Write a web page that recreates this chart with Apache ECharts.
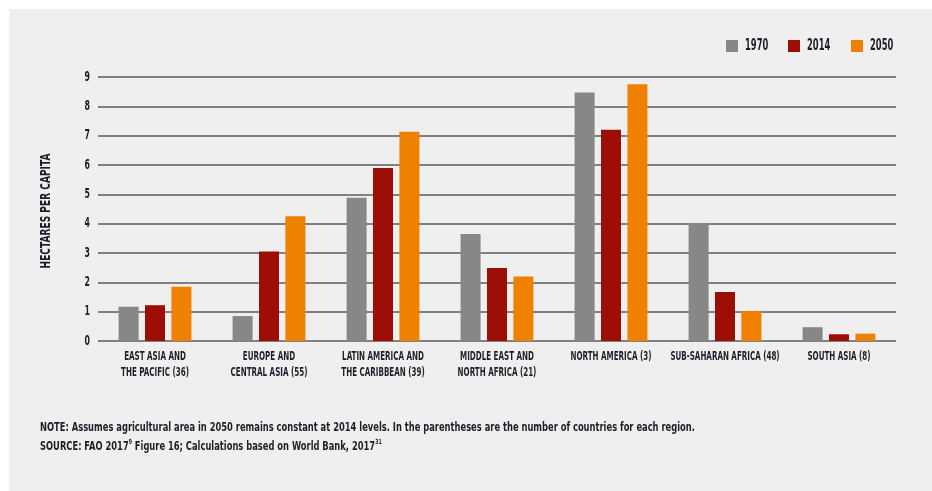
<!DOCTYPE html>
<html>
<head>
<meta charset="utf-8">
<script src="https://cdn.jsdelivr.net/npm/echarts@6/dist/echarts.min.js"></script>
<style>
  html, body { margin: 0; padding: 0; background: #ffffff; width: 932px; height: 491px; overflow: hidden; }
  #chart { position: absolute; left: 9px; top: 9px; width: 923px; height: 482px; background: #efefef; }
</style>
</head>
<body>
<div id="chart"></div>
<script>
// Regions (number of countries in parentheses)
const regions = [
  'EAST ASIA AND\nTHE PACIFIC (36)',
  'EUROPE AND\nCENTRAL ASIA (55)',
  'LATIN AMERICA AND\nTHE CARIBBEAN (39)',
  'MIDDLE EAST AND\nNORTH AFRICA (21)',
  'NORTH AMERICA (3)',
  'SUB-SAHARAN AFRICA (48)',
  'SOUTH ASIA (8)'
];

// Agricultural hectares per capita
const years = ['1970', '2014', '2050'];
const ha1970 = [1.17, 0.85, 4.88, 3.65, 8.47, 4.02, 0.47];
const ha2014 = [1.22, 3.05, 5.90, 2.49, 7.20, 1.67, 0.23];
const ha2050 = [1.85, 4.25, 7.13, 2.20, 8.75, 1.02, 0.25];

const yTicks = [0, 1, 2, 3, 4, 5, 6, 7, 8, 9];

const FONT = '"DejaVu Sans Condensed", "DejaVu Sans", sans-serif';
const INK = '#1e1e28';
const colors = ['#878787', '#9c0e05', '#f08000'];
const seriesData = [ha1970, ha2014, ha2050];

const chart = echarts.init(document.getElementById('chart'));

chart.setOption({
  animation: false,
  color: colors,
  grid: { left: 89, right: 36, top: 68, bottom: 150, containLabel: false },
  xAxis: {
    type: 'category',
    data: regions,
    axisLine: { show: false },
    axisTick: { show: false },
    axisLabel: { show: false }
  },
  yAxis: {
    type: 'value',
    min: yTicks[0],
    max: yTicks[yTicks.length - 1],
    interval: 1,
    axisLine: { show: false },
    axisTick: { show: false },
    axisLabel: { show: false },
    splitLine: { lineStyle: { color: '#5c5c5c', width: 1.6 } }
  },
  series: years.map((y, i) => ({
    name: y,
    type: 'bar',
    data: seriesData[i],
    barWidth: 20,
    barGap: '32%',
    itemStyle: { color: colors[i] }
  }))
});

// Condensed captions: text drawn with a horizontal squeeze
function squeezed(text, x, y, size, sx, align) {
  return {
    type: 'text',
    x: x,
    y: y,
    scaleX: sx,
    style: {
      text: text,
      font: 'bold ' + size + 'px ' + FONT,
      fill: INK,
      align: align || 'left',
      verticalAlign: 'middle'
    }
  };
}

const graphics = [];

// Value tick labels, placed by the value scale
yTicks.forEach(v => {
  const py = chart.convertToPixel({ yAxisIndex: 0 }, v);
  graphics.push(squeezed(String(v), 81, py, 14, 0.62, 'right'));
});

// Category captions under the axis, placed by the category scale
const baseY = chart.convertToPixel({ yAxisIndex: 0 }, 0);
regions.forEach((name, i) => {
  const cx = chart.convertToPixel({ xAxisIndex: 0 }, i);
  graphics.push({
    type: 'text',
    x: cx,
    y: baseY + 8,
    scaleX: 0.69,
    style: {
      text: name,
      font: 'bold 11.5px ' + FONT,
      lineHeight: 16,
      fill: INK,
      align: 'center',
      verticalAlign: 'top'
    }
  });
});

// Vertical axis title
graphics.push({
  type: 'text',
  x: 37,
  y: 202,
  rotation: Math.PI / 2,
  scaleX: 0.72,
  style: {
    text: 'HECTARES PER CAPITA',
    font: 'bold 14px ' + FONT,
    fill: INK,
    align: 'center',
    verticalAlign: 'middle'
  }
});

// Legend swatches and labels
const legendX = [717, 779, 842];
years.forEach((y, i) => {
  graphics.push({
    type: 'rect',
    shape: { x: legendX[i], y: 31, width: 12, height: 12 },
    style: { fill: colors[i] }
  });
  graphics.push(squeezed(y, legendX[i] + 19, 37.5, 15, 0.62));
});

// Footnotes
graphics.push(squeezed(
  'NOTE: Assumes agricultural area in 2050 remains constant at 2014 levels. In the parentheses are the number of countries for each region.',
  31, 419, 12.5, 0.742));
graphics.push({
  type: 'text',
  x: 31,
  y: 438,
  scaleX: 0.742,
  style: {
    text: '{t|SOURCE: FAO 2017}{s|9}{t| Figure 16; Calculations based on World Bank, 2017}{s|31}',
    verticalAlign: 'middle',
    rich: {
      t: { font: 'bold 12.5px ' + FONT, fill: INK, lineHeight: 16, verticalAlign: 'middle' },
      s: { font: 'bold 7px ' + FONT, fill: INK, lineHeight: 8, verticalAlign: 'top' }
    }
  }
});

chart.setOption({ graphic: graphics });
</script>
</body>
</html>
